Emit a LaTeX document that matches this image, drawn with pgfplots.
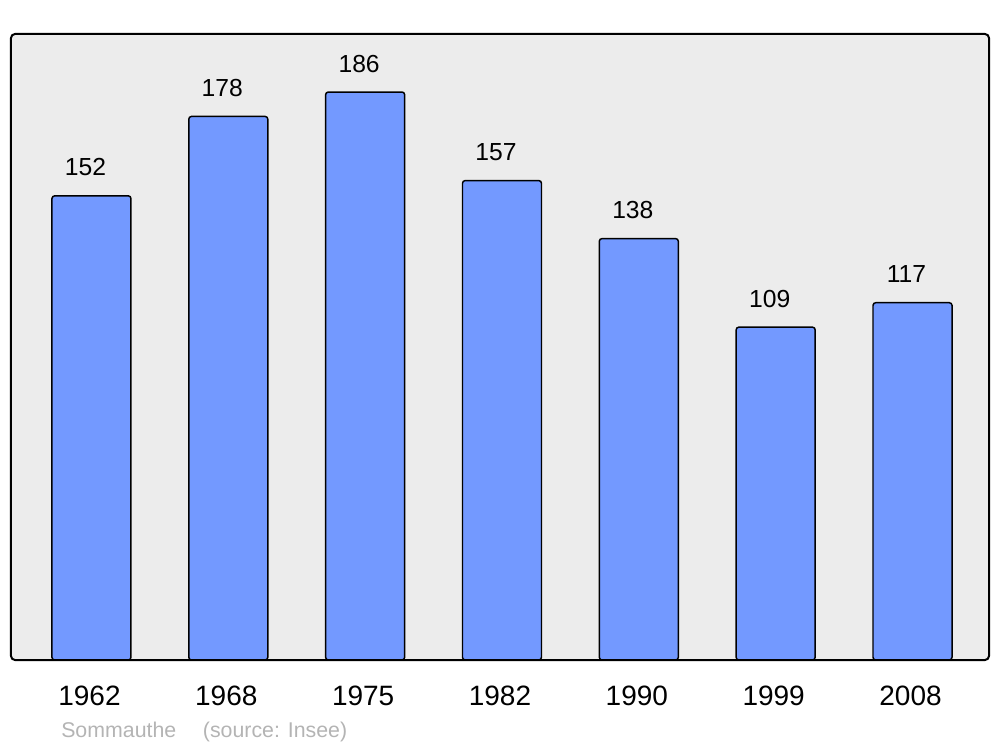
\documentclass[border=0pt]{standalone}
\usepackage{pgfplots}
\pgfplotsset{compat=1.18}
\usepackage{fontspec}
\setmainfont{Liberation Sans}
\definecolor{bgc}{HTML}{ECECEC}
\definecolor{barc}{HTML}{7399FF}
\definecolor{srcc}{HTML}{B4B4B4}
\begin{document}
\begin{tikzpicture}[x=0.75pt,y=0.75pt]
\path[use as bounding box] (-11,-87) rectangle (989,660);
\fill[bgc, rounded corners=3pt] (0,0) rectangle (978,626);
\begin{axis}[
  at={(0,0)}, anchor=south west,
  scale only axis, width=733.5pt, height=469.5pt,
  xmin=-0.588, xmax=6.559, ymin=0, ymax=205,
  axis line style={draw=none},
  ytick=\empty,
  xtick={0,1,2,3,4,5,6},
  xticklabels={1962,1968,1975,1982,1990,1999,2008},
  major tick length=0pt,
  xticklabel style={anchor=base, inner sep=0pt, yshift=-33.75pt, xshift=-1.5pt, font=\fontsize{21}{25}\selectfont},
  /pgf/number format/assume math mode=true,
  clip=false,
]
\addplot[ybar, bar width=59.25pt, fill=barc, draw=black, line width=1.1pt, rounded corners=2pt,
  nodes near coords={\pgfmathprintnumber[assume math mode=true]{\pgfplotspointmeta}},
  every node near coord/.style={anchor=base, inner sep=0pt, yshift=15pt, xshift=-4.5pt, font=\fontsize{18.5}{22}\selectfont, black}]
coordinates {(0,152) (1,178) (2,186) (3,157) (4,138) (5,109) (6,117)};
\end{axis}
\draw[line width=1.5pt, rounded corners=3pt] (0,0) rectangle (978,626);
\node[anchor=base west, inner sep=0pt, text=srcc, font=\fontsize{16}{19}\selectfont] at (50,-77) {Sommauthe\hspace{1.25em}(source: Insee)};
\end{tikzpicture}
\end{document}
